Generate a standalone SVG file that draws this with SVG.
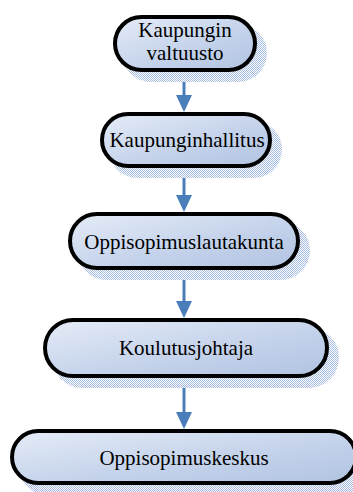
<svg xmlns="http://www.w3.org/2000/svg" width="353" height="492" viewBox="0 0 353 492">
  <defs>
    <linearGradient id="fillGrad" x1="0" y1="0" x2="1" y2="1">
      <stop offset="0" stop-color="#e5ecf7"/>
      <stop offset="0.55" stop-color="#c5d3eb"/>
      <stop offset="1" stop-color="#b2c4e2"/>
    </linearGradient>
    <pattern id="shadowDots" width="2" height="2" patternUnits="userSpaceOnUse">
      <rect width="2" height="2" fill="#ffffff"/>
      <rect width="1" height="1" fill="#a6bbe0"/>
      <rect x="1" y="1" width="1" height="1" fill="#a6bbe0"/>
    </pattern>
  </defs>
  <style>
    .shadow { fill: url(#shadowDots); }
    .box { fill: url(#fillGrad); stroke: #000000; stroke-width: 4; }
    .label { font-family: "Liberation Serif", "Times New Roman", serif; font-size: 21px; fill: #000000; text-anchor: middle; }
    .conn { stroke: #4a7ebb; stroke-width: 3; fill: none; }
    .head { fill: #4a7ebb; }
  </style>

  <g id="connectors">
    <line class="conn" x1="184" y1="72" x2="184" y2="95"/>
    <path class="head" d="M176,95 L192,95 L184,112 Z"/>
    <line class="conn" x1="184" y1="168" x2="184" y2="195"/>
    <path class="head" d="M176,195 L192,195 L184,212 Z"/>
    <line class="conn" x1="184" y1="270" x2="184" y2="301"/>
    <path class="head" d="M176,301 L192,301 L184,318 Z"/>
    <line class="conn" x1="184" y1="378" x2="184" y2="412"/>
    <path class="head" d="M176,412 L192,412 L184,429 Z"/>
  </g>

  <g id="node-valtuusto">
    <rect class="shadow" x="122" y="24" width="145" height="58" rx="29"/>
    <rect class="box" x="115" y="17" width="140" height="53" rx="26.5"/>
    <text class="label" x="185" y="37">Kaupungin</text>
    <text class="label" x="185" y="60">valtuusto</text>
  </g>

  <g id="node-hallitus">
    <rect class="shadow" x="109" y="121" width="173" height="57" rx="28.5"/>
    <rect class="box" x="102" y="114" width="168" height="52" rx="26"/>
    <text class="label" x="187" y="147">Kaupunginhallitus</text>
  </g>

  <g id="node-lautakunta">
    <rect class="shadow" x="77" y="221" width="233" height="59" rx="29.5"/>
    <rect class="box" x="70" y="214" width="228" height="54" rx="27"/>
    <text class="label" x="184" y="249">Oppisopimuslautakunta</text>
  </g>

  <g id="node-koulutusjohtaja">
    <rect class="shadow" x="52" y="327" width="287" height="61" rx="30.5"/>
    <rect class="box" x="45" y="320" width="282" height="56" rx="28"/>
    <text class="label" x="186" y="355">Koulutusjohtaja</text>
  </g>

  <g id="node-keskus">
    <rect class="shadow" x="19" y="438" width="349" height="57" rx="28.5"/>
    <rect class="box" x="12" y="431" width="344" height="52" rx="26"/>
    <text class="label" x="184" y="465">Oppisopimuskeskus</text>
  </g>
</svg>
